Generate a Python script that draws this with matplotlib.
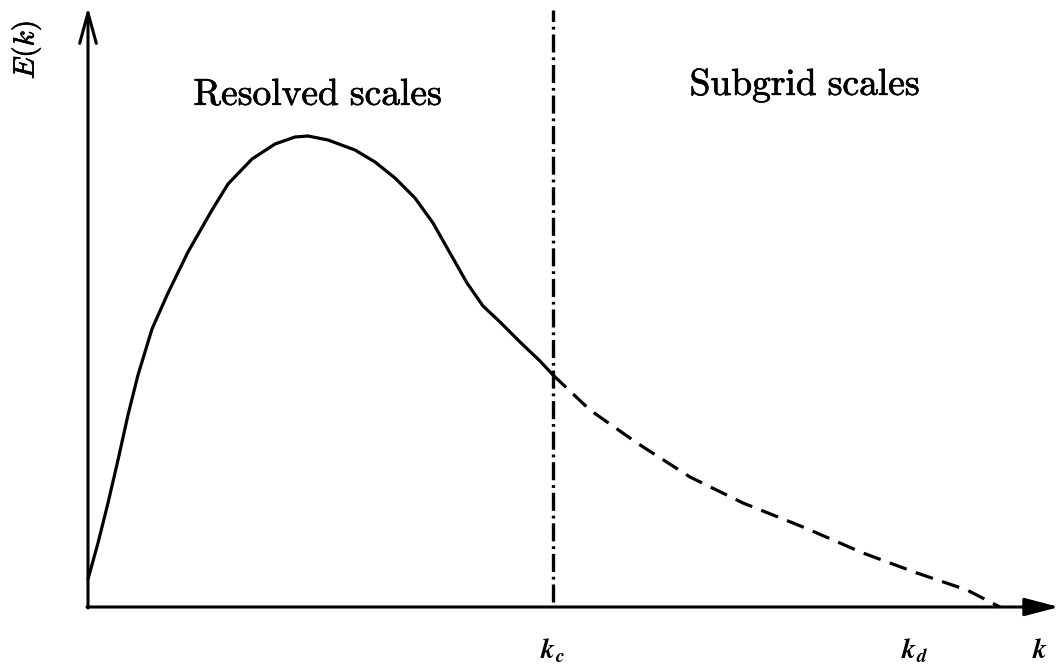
import matplotlib
matplotlib.use('Agg')
import matplotlib.pyplot as plt
import matplotlib.patheffects as pe

plt.rcParams['mathtext.fontset'] = 'cm'
plt.rcParams['lines.scale_dashes'] = False

# energy spectrum sampled along k (resolved part up to the cutoff)
k_resolved = [0, 10, 20, 30, 40, 50, 64, 80, 100, 124, 140, 164, 187, 207,
              220, 240, 267, 287, 307, 327, 345, 362, 379, 395, 412, 432,
              452, 465]
E_resolved = [28, 64, 104, 147, 192, 232, 278, 314, 355, 397, 423, 448, 463,
              470, 471, 467, 457, 445, 429, 409, 384, 354, 324, 301, 285, 265,
              246, 232]

# subgrid part, from the cutoff to the dissipation wavenumber
k_subgrid = [465, 502, 549, 602, 655, 715, 775, 829, 879, 912]
E_subgrid = [232, 197, 164, 130, 104, 80, 54, 34, 17, 0]

k_c = 465
k_d = 912

fig = plt.figure(figsize=(10.61, 6.68), dpi=100)
ax = fig.add_axes([0, 0, 1, 1])
ax.set_xlim(-88, 1061 - 88)
ax.set_ylim(-(668 - 607), 607)
ax.axis('off')

# axes with arrow heads
ax.annotate('', xy=(971, 0), xytext=(-1, 0),
            arrowprops=dict(arrowstyle='-|>,head_length=2.1,head_width=0.55',
                            color='black', lw=2.2, shrinkA=0, shrinkB=0))
ax.annotate('', xy=(0, 600), xytext=(0, -1),
            arrowprops=dict(arrowstyle='->,head_length=2.2,head_width=0.6',
                            color='black', lw=2.2, shrinkA=0, shrinkB=0))

ax.plot(k_resolved, E_resolved, color='black', lw=2.3,
        solid_capstyle='round', solid_joinstyle='round')
ax.plot(k_subgrid, E_subgrid, color='black', lw=2.3, linestyle=(0, (13, 7)))

# spectral cutoff
ax.plot([k_c, k_c], [5, 597], color='black', lw=2.4,
        linestyle=(0, (13, 3.5, 2, 3.5)))

heavy = [pe.withStroke(linewidth=0.5, foreground='black')]

ax.text(230, 512, r'$\mathrm{Resolved\ scales}$', fontsize=27,
        ha='center', va='center', path_effects=heavy)
ax.text(717, 522, r'$\mathrm{Subgrid\ scales}$', fontsize=27,
        ha='center', va='center', path_effects=heavy)

ax.text(-62, 557, r'$E(k)$', fontsize=21, rotation=90,
        ha='center', va='center', path_effects=heavy)
ax.text(k_c, -51, r'$\mathbfit{k}_{\mathbfit{c}}$', fontsize=20,
        ha='center', va='baseline')
ax.text(k_d - 85, -51, r'$\mathbfit{k}_{\mathbfit{d}}$', fontsize=20,
        ha='center', va='baseline')
ax.text(952, -51, r'$\mathbfit{k}$', fontsize=20, ha='center', va='baseline')

fig.savefig('out.png', dpi=100, facecolor='white')
